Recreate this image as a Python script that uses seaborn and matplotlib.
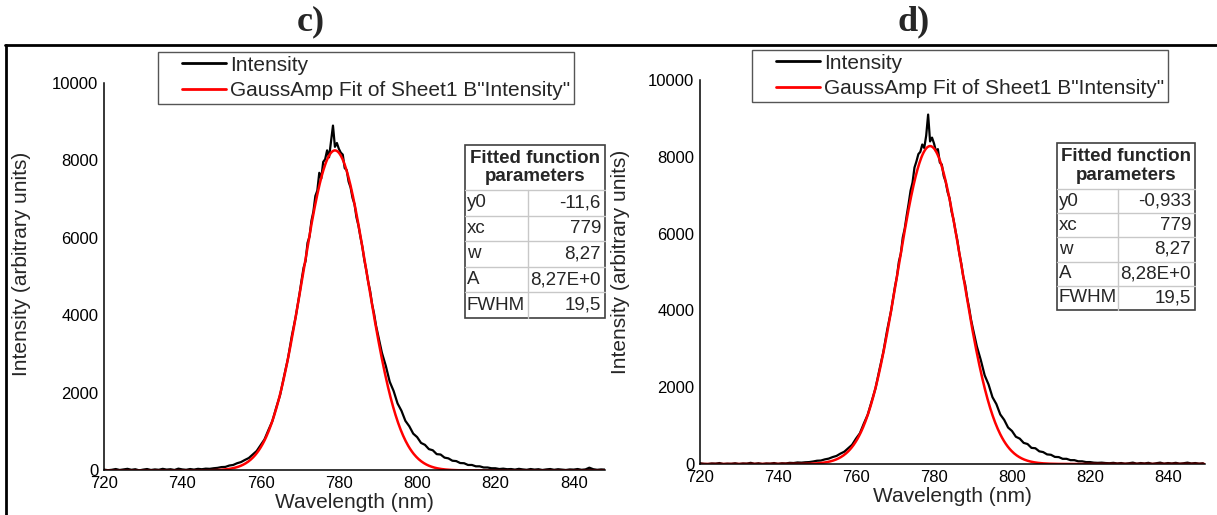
import numpy as np
import pandas as pd
import matplotlib
matplotlib.use("Agg")
import matplotlib.pyplot as plt
from matplotlib.lines import Line2D
from matplotlib.patches import Rectangle
from matplotlib.legend_handler import HandlerLine2D
import seaborn as sns

sns.set_style("white")
plt.rcParams["font.family"] = ["Liberation Sans", "DejaVu Sans"]

# Wavelength sampling (nm): 1 nm steps in the wings, 0.5 nm around the peak
wavelength = np.concatenate([np.arange(720, 770, 1.0),
                             np.arange(770, 790, 0.5),
                             np.arange(790, 850, 1.0)])

# Measured spectrum, panel c
intensity_c = [
    10, -5, 5, 25, 0, 15, 30, 5, 20, -10,
    10, 25, 0, 15, 5, 30, 10, 20, 0, 35,
    15, 5, 25, 10, 30, 20, 35, 30, 45, 55,
    75, 80, 115, 130, 175, 205, 260, 310, 400, 490,
    640, 790, 1030, 1260, 1610, 1940, 2420, 2880, 3470, 3970,
    4580, 4920, 5230, 5400, 5870, 6030, 6440, 6680, 7080, 7220,
    7680, 7530, 7960, 8030, 8260, 8080, 8500, 8900, 8350, 8450,
    8300, 8200, 8150, 7800, 7750, 7450, 7300, 7030, 6870, 6530,
    6320, 6030, 5770, 5430, 5170, 4860, 4620, 4280, 4040, 3730,
    3500, 3030, 2690, 2280, 2040, 1720, 1530, 1270, 1130, 940,
    850, 700, 650, 540, 510, 410, 400, 320, 300, 240,
    230, 180, 175, 130, 130, 95, 95, 65, 65, 45,
    45, 25, 35, 20, 25, 10, 30, 15, 5, 25,
    10, 20, 0, 15, 25, 5, 20, 10, 0, 15,
    10, 25, 5, 15, 60, 20, 5, 15, 10, 0,
]

# Measured spectrum, panel d
intensity_d = [
    20, 5, 0, 15, 10, 25, 0, 10, 5, 20,
    0, 15, 10, 30, 5, 20, 0, 15, 10, 25,
    5, 20, 15, 30, 25, 40, 35, 45, 50, 65,
    85, 90, 120, 140, 180, 210, 270, 320, 410, 500,
    660, 800, 1050, 1280, 1630, 1970, 2450, 2910, 3490, 3990,
    4620, 4880, 5270, 5480, 5900, 6130, 6470, 6780, 7120, 7330,
    7720, 7880, 8070, 8130, 8320, 8230, 8550, 9100, 8400, 8500,
    8350, 8150, 8200, 7850, 7800, 7500, 7350, 7080, 6920, 6580,
    6370, 6080, 5820, 5480, 5220, 4880, 4670, 4330, 4070, 3760,
    3520, 3060, 2710, 2310, 2070, 1740, 1560, 1290, 1150, 950,
    860, 710, 660, 550, 520, 420, 410, 330, 310, 250,
    240, 185, 180, 135, 135, 100, 100, 70, 70, 50,
    50, 35, 30, 35, 25, 20, 30, 15, 25, 10,
    20, 35, 10, 25, 15, 30, 5, 20, 35, 10,
    25, 15, 30, 10, 20, 35, 15, 25, 10, 20,
]

# GaussAmp fit parameters: y0, xc, w, A
fit_c = {"y0": -11.6, "xc": 779, "w": 8.27, "A": 8270}
fit_d = {"y0": -0.933, "xc": 779, "w": 8.27, "A": 8280}

# Parameter table text
param_names = ["y0", "xc", "w", "A", "FWHM"]
param_text_c = ["-11,6", "779", "8,27", "8,27E+0", "19,5"]
param_text_d = ["-0,933", "779", "8,27", "8,28E+0", "19,5"]

panel_titles = ["c)", "d)"]
x_ticks = [720, 740, 760, 780, 800, 820, 840]
y_ticks = [0, 2000, 4000, 6000, 8000, 10000]

W, H = 1217, 515
fig = plt.figure(figsize=(W / 100, H / 100), dpi=100)


def fx(px):
    return px / W


def fy(py):
    return 1 - py / H


def gauss_amp(x, p):
    return p["y0"] + p["A"] * np.exp(-(x - p["xc"]) ** 2 / (2 * p["w"] ** 2))


def draw_table(left, right, top, header_bottom, bottom, split, values):
    n = len(param_names)
    row_h = (bottom - header_bottom) / n
    grid = "#c8c8c8"
    for i in range(n):
        yy = header_bottom + i * row_h
        fig.add_artist(Line2D([fx(left), fx(right)], [fy(yy), fy(yy)],
                              color=grid, lw=1))
    fig.add_artist(Line2D([fx(split), fx(split)], [fy(header_bottom), fy(bottom)],
                          color=grid, lw=1))
    fig.add_artist(Rectangle((fx(left), fy(bottom)), fx(right) - fx(left),
                             fy(top) - fy(bottom), fill=False,
                             edgecolor="#404040", lw=1.2))
    fig.text(fx((left + right) / 2), fy((top + header_bottom) / 2),
             "Fitted function\nparameters", ha="center", va="center",
             fontsize=13.5, fontweight="bold", linespacing=1.1)
    for i, (name, val) in enumerate(zip(param_names, values)):
        yc = header_bottom + (i + 0.5) * row_h
        fig.text(fx(left + 2), fy(yc), name, ha="left", va="center", fontsize=13.5)
        fig.text(fx(right - 4), fy(yc), val, ha="right", va="center", fontsize=13.5)


panels = [
    dict(data=intensity_c, fit=fit_c, params=param_text_c, title=panel_titles[0],
         ax_px=(104, 605, 83, 470), xmax=848, title_x=311, ylabel_x=22,
         ylabel_y=264, legend_px=(158, 52), table=(465, 605, 145, 190, 318, 528)),
    dict(data=intensity_d, fit=fit_d, params=param_text_d, title=panel_titles[1],
         ax_px=(700, 1205, 80, 464), xmax=849.5, title_x=914, ylabel_x=620,
         ylabel_y=262, legend_px=(752, 50), table=(1057, 1195, 143, 189, 310, 1118)),
]

# legend line handles start a little to the right of the box edge
shifted_handle = HandlerLine2D(xpad=1.0)

for p in panels:
    l, r, t, b = p["ax_px"]
    ax = fig.add_axes([fx(l), fy(b), fx(r) - fx(l), fy(t) - fy(b)])
    df = pd.DataFrame({"Wavelength": wavelength, "Intensity": p["data"]})
    sns.lineplot(data=df, x="Wavelength", y="Intensity", ax=ax, color="black",
                 lw=1.6, label="Intensity", estimator=None)
    xf = np.linspace(720, p["xmax"], 800)
    sns.lineplot(x=xf, y=gauss_amp(xf, p["fit"]), ax=ax, color="#ff0000", lw=1.8,
                 label='GaussAmp Fit of Sheet1 B"Intensity"', estimator=None)
    ax.set_xlim(720, p["xmax"])
    ax.set_ylim(0, 10000)
    ax.set_xticks(x_ticks)
    ax.set_yticks(y_ticks)
    ax.tick_params(axis="both", direction="out", length=3, width=1, pad=1,
                   labelsize=12, colors="black")
    for s in ("top", "right"):
        ax.spines[s].set_visible(False)
    for s in ("left", "bottom"):
        ax.spines[s].set_color("black")
        ax.spines[s].set_linewidth(1.1)
    ax.set_xlabel("Wavelength (nm)", fontsize=15, labelpad=2)
    ax.set_ylabel("")
    fig.text(fx(p["ylabel_x"]), fy(p["ylabel_y"]), "Intensity (arbitrary units)",
             rotation=90, ha="center", va="center", fontsize=15)
    ax.patch.set_alpha(0)
    handles, labels = ax.get_legend_handles_labels()
    leg = ax.legend(handles, labels, loc="upper left",
                    bbox_to_anchor=(fx(p["legend_px"][0]), fy(p["legend_px"][1])),
                    bbox_transform=fig.transFigure, borderaxespad=0, fontsize=15,
                    handlelength=3.1, handletextpad=0.2, labelspacing=0.32,
                    borderpad=0.17, fancybox=False, framealpha=1,
                    handler_map={h: shifted_handle for h in handles})
    leg.get_frame().set_edgecolor("#555555")
    leg.get_frame().set_linewidth(1.0)
    for h in leg.get_lines():
        h.set_linewidth(2)
    fig.text(fx(p["title_x"]), fy(22), p["title"], ha="center", va="center",
             fontsize=26, fontweight="bold", family="Liberation Serif")
    draw_table(*p["table"][:6], p["params"])

# Enclosing frame lines
fig.add_artist(Line2D([fx(5), 1], [fy(45), fy(45)], color="black", lw=2))
fig.add_artist(Line2D([fx(6), fx(6)], [fy(45), 0], color="black", lw=2))

fig.savefig("out.png", dpi=100)
